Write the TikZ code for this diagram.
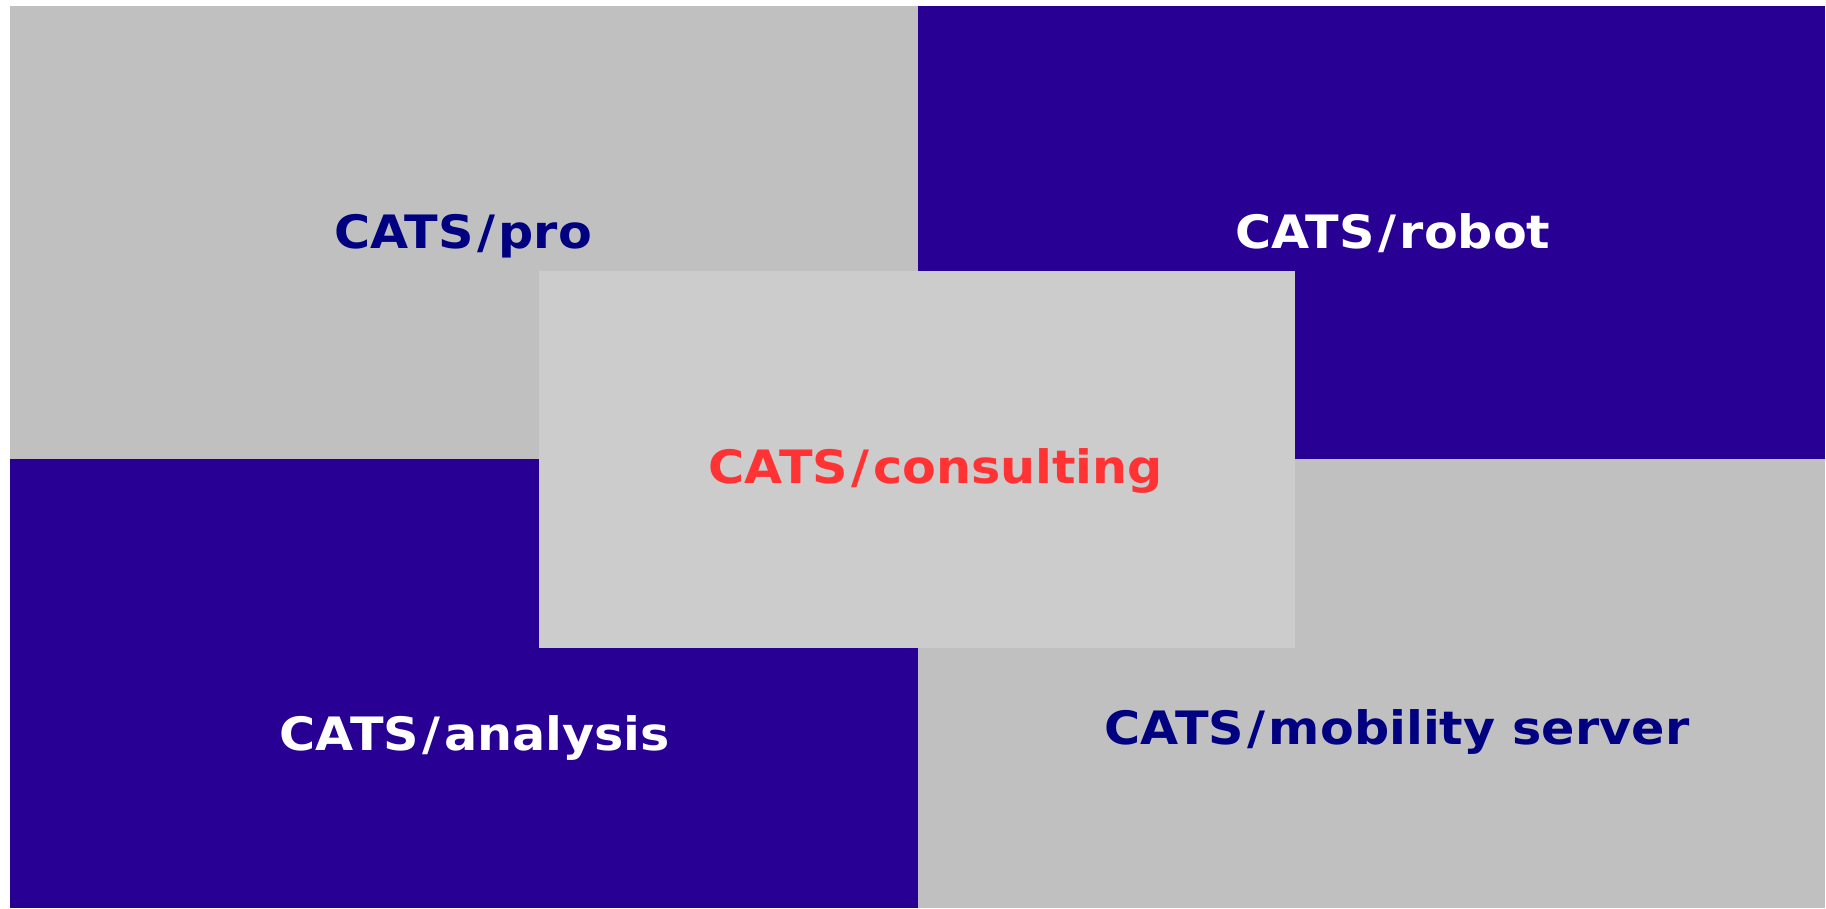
\documentclass[tikz,border=0pt]{standalone}
\usepackage{fontspec}
\setmainfont{DejaVu Sans}
\definecolor{tilegray}{HTML}{C0C0C0}
\definecolor{tileblue}{HTML}{290094}
\definecolor{centergray}{HTML}{CCCCCC}
\definecolor{darknavy}{HTML}{000080}
\definecolor{redtext}{HTML}{FF3333}
\newcommand\catspre{CATS\kern3.5pt/\kern3.5pt}
\begin{document}
\begin{tikzpicture}[x=1pt,y=-1pt,
  lbl/.style={font=\fontsize{46}{50}\selectfont\bfseries\addfontfeature{FakeStretch=1.07}, anchor=base, inner sep=0pt}]
\useasboundingbox (0,0) rectangle (1826,908);
\fill[white] (0,0) rectangle (1826,908);
\fill[tilegray] (10,6) rectangle (918,459);
\fill[tileblue] (918,6) rectangle (1825,459);
\fill[tileblue] (10,459) rectangle (918,908);
\fill[tilegray] (918,459) rectangle (1825,908);
\fill[centergray] (539,271) rectangle (1295,648);
\node[lbl, text=darknavy] (pro) at (463,248) {\catspre pro};
\node[lbl, text=white] (robot) at (1393,248) {\catspre robot};
\node[lbl, text=redtext] (consulting) at (936,483) {\catspre consulting};
\node[lbl, text=white] (analysis) at (475,750) {\catspre analysis};
\node[lbl, text=darknavy] (mobility) at (1397,744) {\catspre mobility server};
\end{tikzpicture}
\end{document}
